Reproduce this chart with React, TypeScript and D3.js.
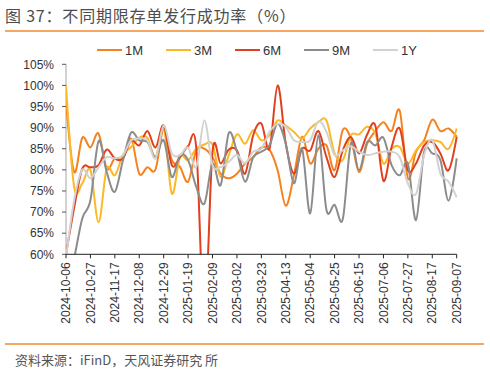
import React from "react";
import * as d3 from "d3";

const dates = [
  "2024-10-06","2024-10-13","2024-10-20","2024-10-27","2024-11-03","2024-11-10","2024-11-17","2024-11-24",
  "2024-12-01","2024-12-08","2024-12-15","2024-12-22","2024-12-29","2025-01-05","2025-01-12","2025-01-19",
  "2025-01-26","2025-02-02","2025-02-09","2025-02-16","2025-02-23","2025-03-02","2025-03-09","2025-03-16",
  "2025-03-23","2025-03-30","2025-04-06","2025-04-13","2025-04-20","2025-04-27","2025-05-04","2025-05-11",
  "2025-05-18","2025-05-25","2025-06-01","2025-06-08","2025-06-15","2025-06-22","2025-06-29","2025-07-06",
  "2025-07-13","2025-07-20","2025-07-27","2025-08-03","2025-08-10","2025-08-17","2025-08-24","2025-08-31",
  "2025-09-07",
];

const tickLabels = [
  "2024-10-06","2024-10-27","2024-11-17","2024-12-08","2024-12-29","2025-01-19","2025-02-09","2025-03-02",
  "2025-03-23","2025-04-13","2025-05-04","2025-05-25","2025-06-15","2025-07-06","2025-07-27","2025-08-17","2025-09-07",
];

const yTicks = [60, 65, 70, 75, 80, 85, 90, 95, 100, 105];

const s1M = [
  96, 79.5, 87.6, 85.3, 88.6, 80.3, 82.7, 82.7, 87.4, 79.1, 80.6, 80.1, 89.8,
  82.3, 80.7, 77.2, 84.6, 85, 83, 79.1, 78, 79.1, 81.5, 83, 85.3,
  84.8, 79.9, 71.5, 78.7, 87.8, 81.5, 85, 85.8, 79.9, 89.4, 87.4, 79.5,
  86.2, 89.2, 91.3, 89.2, 94, 78, 84.3, 87, 91.9, 89.2, 89.8, 87.8,
];
const s3M = [
  100, 76, 76.8, 80, 67.6, 80.3, 78.7, 83.5, 85.4, 87.6, 87.6, 83, 90.2,
  74.4, 83, 82.3, 85, 86, 86, 78.3, 83.5, 88.4, 86.2, 89.4, 87,
  88.2, 91.7, 90.5, 89, 87.4, 89.8, 91.3, 91.7, 83.9, 82.3, 88.2, 88.4,
  90.2, 88.6, 81.5, 85, 85.4, 81.5, 84.6, 86.6, 87, 86.6, 85, 89.8,
];
const s6M = [
  60, 71, 80.3, 80.6, 81.1, 84.8, 82.7, 82.7, 87, 85.8, 89.2, 85.3, 90.5,
  81.1, 83, 85.6, 85.3, 45, 84.3, 81.5, 84.8, 84.6, 79.1, 88.2, 91,
  85, 100, 86.2, 79.1, 85, 84.6, 89.2, 83, 78.3, 84.6, 87.8, 83.9,
  88.4, 90.5, 77.4, 85.4, 89.8, 79.9, 81.5, 85.8, 86.6, 83.9, 79.9, 87.8,
];
const s9M = [
  50, 59, 68.5, 72.8, 86.8, 79.5, 74.8, 82.3, 88.8, 87, 86.6, 83, 87,
  78.3, 83.5, 82.3, 76, 72, 81.5, 76.4, 88.7, 84.3, 77.2, 83, 84.3,
  85.8, 90.9, 86.2, 76.8, 85, 69.7, 88.2, 70.5, 71.7, 68.3, 86.2, 79.9,
  86.6, 85.8, 87.6, 81.1, 78.7, 81.5, 68.1, 84.3, 83.9, 82.3, 72.7, 82.7,
];
const s1Y = [
  59, 72.8, 80, 78, 80.6, 83, 82.7, 83.5, 87, 87.4, 87, 82.7, 90.5,
  83.9, 83.5, 85.3, 80.7, 91.7, 81.1, 80.7, 81.9, 83.5, 81.5, 84.3, 85,
  89, 90.9, 90.2, 87, 86.6, 87, 91.5, 89, 83.5, 84.6, 85.6, 84.3,
  83.5, 83.9, 84.3, 84.3, 83, 76.8, 74.3, 83.5, 87, 79.1, 77.2, 73.5,
];

const seriesNames = ["1M", "3M", "6M", "9M", "1Y"];
const seriesColors = ["#F5821F", "#FDB827", "#E0401E", "#8C8C8C", "#D2D2D2"];
const seriesData = [s1M, s3M, s6M, s9M, s1Y];

const W = 490;
const H = 373;
const plot = { left: 66, right: 456.7, top: 64.3, bottom: 254.3 };
const font = "'Liberation Sans', Arial, 'Noto Sans CJK SC', sans-serif";
const cjkFont = "'Noto Sans CJK SC', 'Liberation Sans', sans-serif";

export default function App() {
  const x = d3.scalePoint<string>().domain(dates).range([plot.left, plot.right]).padding(0);
  const y = d3.scaleLinear().domain([60, 105]).range([plot.bottom, plot.top]);
  const line = d3
    .line<number>()
    .x((_, i) => x(dates[i]) as number)
    .y((d) => y(d))
    .curve(d3.curveCardinal.tension(0));

  const legendX = [97, 166, 235, 304, 373];

  return (
    <svg
      width={W}
      height={H}
      viewBox={`0 0 ${W} ${H}`}
      style={{ position: "absolute", left: 0, top: 0, background: "#fff" }}
    >
      <defs>
        <clipPath id="plotClip">
          <rect x={plot.left} y={plot.top - 10} width={plot.right - plot.left + 4} height={plot.bottom - plot.top + 10} />
        </clipPath>
      </defs>
      <text x={5} y={21.5} fontFamily={cjkFont} fontSize={16} fill="#4d4d4d" fontWeight={400} letterSpacing={0.8}>
        图 37：不同期限存单发行成功率（%）
      </text>
      <line x1={5} x2={484} y1={31} y2={31} stroke="#F08A2E" strokeWidth={1.5} />

      {seriesNames.map((n, i) => (
        <g key={n}>
          <line x1={legendX[i]} x2={legendX[i] + 25} y1={50} y2={50} stroke={seriesColors[i]} strokeWidth={2} />
          <text x={legendX[i] + 28} y={54.5} fontFamily={font} fontSize={13} fill="#333">
            {n}
          </text>
        </g>
      ))}

      {/* y axis */}
      <line x1={plot.left} x2={plot.left} y1={plot.top} y2={plot.bottom} stroke="#A6A6A6" strokeWidth={1} />
      {yTicks.map((t) => (
        <g key={t}>
          <line x1={plot.left - 4} x2={plot.left} y1={y(t)} y2={y(t)} stroke="#555" strokeWidth={1} />
          <text x={plot.left - 12} y={y(t)} dy="0.35em" textAnchor="end" fontFamily={font} fontSize={12} fill="#333">
            {t}%
          </text>
        </g>
      ))}

      <g clipPath="url(#plotClip)">
        {seriesData.map((s, i) => (
          <path key={i} d={line(s) || ""} fill="none" stroke={seriesColors[i]} strokeWidth={2} strokeLinejoin="round" />
        ))}
      </g>

      {/* x axis */}
      <line x1={plot.left} x2={plot.right} y1={plot.bottom} y2={plot.bottom} stroke="#222" strokeWidth={1} />
      {tickLabels.map((t) => {
        const px = x(t) as number;
        return (
          <g key={t}>
            <line x1={px} x2={px} y1={plot.bottom} y2={plot.bottom + 4} stroke="#222" strokeWidth={1} />
            <text
              transform={`translate(${px},${plot.bottom + 8}) rotate(-90)`}
              dy="0.35em"
              textAnchor="end"
              fontFamily={font}
              fontSize={12}
              fill="#333"
            >
              {t}
            </text>
          </g>
        );
      })}

      <line x1={5} x2={484} y1={344} y2={344} stroke="#F08A2E" strokeWidth={1.5} />
      <text x={15} y={364.5} fontFamily={cjkFont} fontSize={13} fill="#555">
        资料来源：iFinD，天风证券研究 所
      </text>
    </svg>
  );
}
